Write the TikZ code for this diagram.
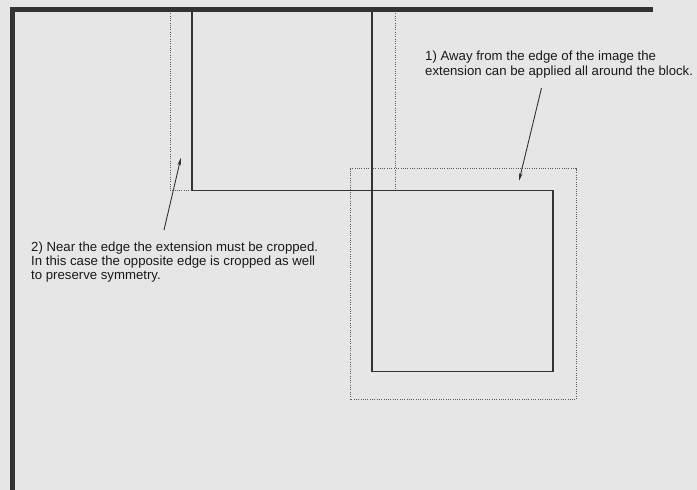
\documentclass[tikz,border=0pt]{standalone}
\usepackage{fontspec}
\setmainfont{Liberation Sans}
\usetikzlibrary{arrows.meta}
\definecolor{paper}{HTML}{E6E6E6}
\definecolor{ink}{HTML}{333333}
\tikzset{
    image-edge/.style = {draw=ink, line width=4.5pt},
    block-line/.style = {draw=ink, line width=1.1pt},
    extension-line/.style = {draw=ink!80, line width=1pt, dash pattern=on 1pt off 1.3pt},
    note-text/.style = {align=left, anchor=west, inner sep=0pt, text=black!90, font=\fontsize{13.2}{14.2}\selectfont},
    note-arrow/.style = {draw=ink, line width=0.9pt, -{Stealth[length=8pt,width=3.6pt]}},
}

\begin{document}
\begin{tikzpicture}[x=1pt, y=-1pt]
\fill[paper] (0,0) rectangle (697,490);
\useasboundingbox (0,0) rectangle (697,490);

\draw[extension-line] (170,11) -- (170,190.5) -- (192,190.5);
\draw[extension-line] (395,11) -- (395,190.5);
\draw[extension-line] (350,168.5) rectangle (576,399.5);

\draw[block-line] (192,9.5) -- (192,190.5) -- (372,190.5) -- (372,9.5);
\draw[block-line] (372,190.5) rectangle (553,371.5);

\draw[image-edge] (12.5,490) -- (12.5,9.5) -- (653,9.5);

\node[note-text] (note-away) at (425,64.5) {1) Away from the edge of the image the\\extension can be applied all around the block.};
\node[note-text] (note-near) at (31,262) {2) Near the edge the extension must be cropped.\\In this case the opposite edge is cropped as well\\to preserve symmetry.};

\coordinate (away-tail) at (541.5,88);
\coordinate (away-tip) at (519,181);
\coordinate (near-tail) at (164,230);
\coordinate (near-tip) at (181,157.5);
\draw[note-arrow] (away-tail) -- (away-tip);
\draw[note-arrow] (near-tail) -- (near-tip);
\end{tikzpicture}
\end{document}
